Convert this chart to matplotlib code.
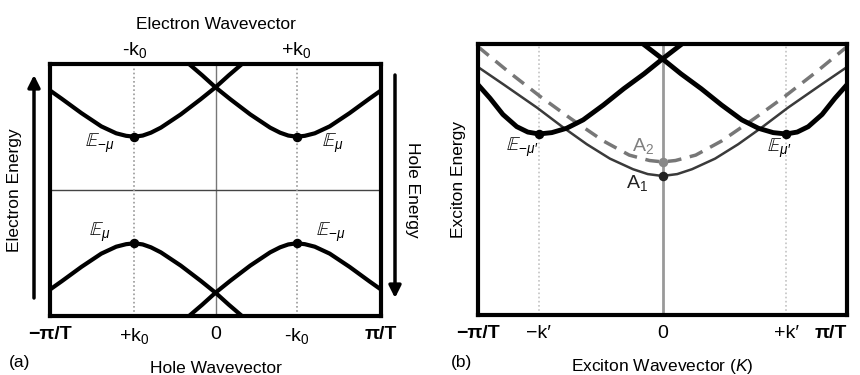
import matplotlib
matplotlib.use("Agg")
import matplotlib.pyplot as plt

plt.rcParams['font.family'] = ['Liberation Sans', 'DejaVu Sans']
plt.rcParams['mathtext.fontset'] = 'custom'
plt.rcParams['mathtext.rm'] = 'Liberation Sans'
plt.rcParams['mathtext.it'] = 'Liberation Sans:italic'
plt.rcParams['mathtext.bf'] = 'Liberation Sans:bold'

# ---------------- Panel (a) data (normalised: x in [-1,1] = [-pi/T, pi/T]) -------------
k0 = 0.49
a_xticks = [-1.0, -k0, 0.0, k0, 1.0]
a_xticklabels = ['\u2212\u03c0/T', '+k$_0$', '0', '-k$_0$', '\u03c0/T']
a_top_ticks = [-k0, k0]
a_top_labels = ['-k$_0$', '+k$_0$']

# electron band with minimum at +k0
a_eR_x = [-0.16, -0.08, 0.0, 0.09, 0.21, 0.33, 0.39, 0.44, 0.49, 0.54, 0.60, 0.69, 0.81, 0.93, 1.0]
a_eR_y = [1.0, 0.91, 0.815, 0.72, 0.60, 0.495, 0.455, 0.432, 0.423, 0.43, 0.45, 0.505, 0.61, 0.725, 0.79]
# electron band with minimum at -k0
a_eL_x = [-1.0, -0.93, -0.81, -0.69, -0.60, -0.54, -0.49, -0.44, -0.39, -0.33, -0.21, -0.09, 0.0, 0.08, 0.16]
a_eL_y = [0.79, 0.725, 0.61, 0.505, 0.45, 0.43, 0.423, 0.432, 0.455, 0.495, 0.60, 0.72, 0.815, 0.91, 1.0]
# hole bands
a_hL_x = [-1.0, -0.93, -0.81, -0.69, -0.60, -0.54, -0.49, -0.44, -0.39, -0.33, -0.21, -0.09, 0.0, 0.08, 0.16]
a_hL_y = [-0.79, -0.725, -0.61, -0.505, -0.45, -0.43, -0.423, -0.432, -0.455, -0.495, -0.60, -0.72, -0.815, -0.91, -1.0]
a_hR_x = [-0.16, -0.08, 0.0, 0.09, 0.21, 0.33, 0.39, 0.44, 0.49, 0.54, 0.60, 0.69, 0.81, 0.93, 1.0]
a_hR_y = [-1.0, -0.91, -0.815, -0.72, -0.60, -0.495, -0.455, -0.432, -0.423, -0.43, -0.45, -0.505, -0.61, -0.725, -0.79]
# extremum points and labels
a_dot_x = [-k0, k0, -k0, k0]
a_dot_y = [0.423, 0.423, -0.423, -0.423]
a_dot_labels = [r'$\mathbb{E}_{-\mu}$', r'$\mathbb{E}_{\mu}$', r'$\mathbb{E}_{\mu}$', r'$\mathbb{E}_{-\mu}$']

# ---------------- Panel (b) data -------------
kp = 0.67
b_xticks = [-1.0, -kp, 0.0, kp, 1.0]
b_xticklabels = ['\u2212\u03c0/T', '\u2212k\u2032', '0', '+k\u2032', '\u03c0/T']

b_L_x = [-1.0, -0.935, -0.865, -0.79, -0.73, -0.67, -0.60, -0.52, -0.43, -0.32, -0.21, -0.10, 0.0, 0.105]
b_L_y = [0.85, 0.80, 0.74, 0.695, 0.675, 0.668, 0.673, 0.689, 0.72, 0.775, 0.835, 0.89, 0.945, 1.0]
b_R_x = [-0.105, 0.0, 0.10, 0.21, 0.32, 0.43, 0.52, 0.60, 0.67, 0.73, 0.79, 0.865, 0.935, 1.0]
b_R_y = [1.0, 0.945, 0.89, 0.835, 0.775, 0.72, 0.689, 0.673, 0.668, 0.675, 0.695, 0.74, 0.80, 0.85]

b_A1_x = [-1.0, -0.86, -0.68, -0.54, -0.41, -0.285, -0.16, -0.08, 0.0, 0.08, 0.16, 0.285, 0.41, 0.54, 0.68, 0.86, 1.0]
b_A1_y = [0.915, 0.85, 0.765, 0.693, 0.63, 0.577, 0.538, 0.52, 0.513, 0.52, 0.538, 0.577, 0.63, 0.693, 0.765, 0.85, 0.915]

b_A2_x = [-1.0, -0.83, -0.66, -0.50, -0.32, -0.18, -0.07, 0.0, 0.07, 0.18, 0.32, 0.50, 0.66, 0.83, 1.0]
b_A2_y = [0.99, 0.895, 0.805, 0.726, 0.642, 0.59, 0.570, 0.565, 0.570, 0.59, 0.642, 0.726, 0.805, 0.895, 0.99]

b_dot_x = [-kp, kp]
b_dot_y = [0.668, 0.668]
b_dot_labels = [r"$\mathbb{E}_{-\mu\prime}$", r"$\mathbb{E}_{\mu\prime}$"]
A1 = (0.0, 0.513)
A2 = (0.0, 0.565)

W, H = 860, 375
fig = plt.figure(figsize=(W / 100, H / 100), dpi=100)

def px_axes(l, r, t, b):
    return fig.add_axes([l / W, (H - b) / H, (r - l) / W, (b - t) / H])

TICK_FS = 14
LAB_FS = 12.5

# ---------------- Panel (a) -------------
ax = px_axes(50, 381, 64, 316)
ax.set_xlim(-1, 1)
ax.set_ylim(-1, 1)
ax.axvline(0, color='#777777', lw=1.0, zorder=1)
ax.axhline(0, color='#444444', lw=1.0, zorder=1)
for xv in (-k0, k0):
    ax.axvline(xv, color='#999999', lw=1.2, ls=(0, (1, 1.5)), zorder=1)
for xs, ys in ((a_eL_x, a_eL_y), (a_eR_x, a_eR_y), (a_hL_x, a_hL_y), (a_hR_x, a_hR_y)):
    ax.plot(xs, ys, color='black', lw=3.0, solid_joinstyle='round', solid_capstyle='butt', zorder=3)
ax.scatter(a_dot_x, a_dot_y, s=34, color='black', zorder=4)
a_lab_off = [(-0.21, -0.05), (0.22, -0.05), (-0.21, 0.09), (0.21, 0.09)]
for (x, y, t, off) in zip(a_dot_x, a_dot_y, a_dot_labels, a_lab_off):
    ax.text(x + off[0], y + off[1], t, fontsize=14, ha='center', va='center')
for s in ax.spines.values():
    s.set_linewidth(3.0)
ax.set_yticks([])
ax.set_xticks(a_xticks)
ax.set_xticklabels(a_xticklabels, fontsize=TICK_FS)
ax.tick_params(axis='x', length=0, pad=7)
for i in (0, 4):
    ax.get_xticklabels()[i].set_fontweight('bold')
ax.set_xlabel('Hole Wavevector', fontsize=LAB_FS, labelpad=11)
sec = ax.secondary_xaxis('top')
sec.set_xticks(a_top_ticks)
sec.set_xticklabels(a_top_labels, fontsize=TICK_FS)
sec.tick_params(axis='x', length=0, pad=3)
sec.spines['top'].set_visible(False)
sec.set_xlabel('Electron Wavevector', fontsize=LAB_FS, labelpad=8)
ax.set_ylabel('Electron Energy', fontsize=LAB_FS, labelpad=20)
ax.text(1.094, 0.5, 'Hole Energy', rotation=270, transform=ax.transAxes,
        fontsize=LAB_FS, ha='center', va='center')
ax.annotate('', xy=(34, H - 75), xytext=(34, H - 298), xycoords='figure pixels',
            textcoords='figure pixels',
            arrowprops=dict(arrowstyle='-|>', lw=2.5, color='black', mutation_scale=18,
                            shrinkA=0, shrinkB=0))
ax.annotate('', xy=(395, H - 298), xytext=(395, H - 75), xycoords='figure pixels',
            textcoords='figure pixels',
            arrowprops=dict(arrowstyle='-|>', lw=2.5, color='black', mutation_scale=18,
                            shrinkA=0, shrinkB=0))
fig.text(20 / W, (H - 363) / H, '(a)', fontsize=LAB_FS, ha='center', va='center')

# ---------------- Panel (b) -------------
bx = px_axes(478, 847, 44, 315)
bx.set_xlim(-1, 1)
bx.set_ylim(0, 1)
bx.axvline(0, color='#999999', lw=2.0, zorder=1)
for xv in (-kp, kp):
    bx.axvline(xv, color='#c4c4c4', lw=1.2, ls=(0, (1, 1.5)), zorder=1)
bx.plot(b_A2_x, b_A2_y, color='#777777', lw=2.5, ls=(0, (4, 2.5)), zorder=2)
bx.plot(b_A1_x, b_A1_y, color='#3a3a3a', lw=1.8, solid_joinstyle='round', zorder=2)
for xs, ys in ((b_L_x, b_L_y), (b_R_x, b_R_y)):
    bx.plot(xs, ys, color='black', lw=3.5, solid_joinstyle='round', solid_capstyle='butt', zorder=3)
bx.scatter(b_dot_x, b_dot_y, s=34, color='black', zorder=4)
bx.scatter([A2[0]], [A2[1]], s=34, color='#888888', zorder=4)
bx.scatter([A1[0]], [A1[1]], s=34, color='#222222', zorder=4)
b_lab_off = [(-0.09, -0.05), (-0.04, -0.055)]
for (x, y, t, off) in zip(b_dot_x, b_dot_y, b_dot_labels, b_lab_off):
    bx.text(x + off[0], y + off[1], t, fontsize=14, ha='center', va='center')
bx.text(A2[0] - 0.105, A2[1] + 0.06, 'A$_2$', fontsize=14, color='#808080', ha='center', va='center')
bx.text(A1[0] - 0.14, A1[1] - 0.025, 'A$_1$', fontsize=14, color='#222222', ha='center', va='center')
for s in bx.spines.values():
    s.set_linewidth(3.0)
bx.set_yticks([])
bx.set_xticks(b_xticks)
bx.set_xticklabels(b_xticklabels, fontsize=TICK_FS)
bx.tick_params(axis='x', length=0, pad=7)
for i in (0, 4):
    bx.get_xticklabels()[i].set_fontweight('bold')
bx.get_xticklabels()[4].set_horizontalalignment('right')
bx.get_xticklabels()[0].set_horizontalalignment('center')
bx.set_xlabel('Exciton Wavevector ($K$)', fontsize=LAB_FS, labelpad=11)
bx.set_ylabel('Exciton Energy', fontsize=LAB_FS, labelpad=9)
fig.text(462 / W, (H - 363) / H, '(b)', fontsize=LAB_FS, ha='center', va='center')

fig.savefig('out.png', dpi=100, facecolor='white')
